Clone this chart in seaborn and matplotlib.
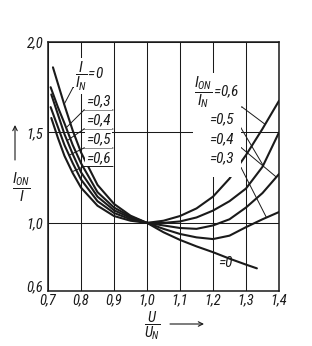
import numpy as np
import pandas as pd
import matplotlib
matplotlib.use("Agg")
import matplotlib.pyplot as plt
import seaborn as sns
from matplotlib import font_manager as fm
from matplotlib.patches import Rectangle

# ---------------- data ----------------
u_p00 = [0.715, 0.73, 0.75, 0.775, 0.8, 0.85, 0.9, 0.95, 1.0, 1.05, 1.1, 1.15, 1.2, 1.25, 1.3, 1.333]
r_p00 = [1.86, 1.77, 1.65, 1.51, 1.39, 1.21, 1.105, 1.04, 1.0, 0.945, 0.90, 0.862, 0.828, 0.79, 0.755, 0.733]

u_p03 = [0.708, 0.73, 0.75, 0.775, 0.8, 0.85, 0.9, 0.95, 1.0, 1.05, 1.1, 1.15, 1.2, 1.25, 1.3, 1.35, 1.4]
r_p03 = [1.75, 1.64, 1.55, 1.43, 1.33, 1.17, 1.085, 1.035, 1.0, 0.965, 0.935, 0.915, 0.905, 0.925, 0.975, 1.02, 1.06]

u_p04 = [0.71, 0.73, 0.75, 0.775, 0.8, 0.85, 0.9, 0.95, 1.0, 1.05, 1.1, 1.15, 1.2, 1.25, 1.3, 1.35, 1.4]
r_p04 = [1.71, 1.60, 1.49, 1.38, 1.28, 1.145, 1.07, 1.028, 1.0, 0.985, 0.97, 0.965, 0.985, 1.02, 1.085, 1.165, 1.27]

u_p05 = [0.708, 0.73, 0.75, 0.775, 0.8, 0.85, 0.9, 0.95, 1.0, 1.05, 1.1, 1.15, 1.2, 1.25, 1.3, 1.35, 1.4]
r_p05 = [1.64, 1.53, 1.43, 1.33, 1.24, 1.12, 1.055, 1.02, 1.0, 1.0, 1.008, 1.03, 1.068, 1.12, 1.19, 1.31, 1.5]

u_p06 = [0.71, 0.73, 0.75, 0.775, 0.8, 0.85, 0.9, 0.95, 1.0, 1.05, 1.1, 1.15, 1.2, 1.25, 1.3, 1.35, 1.4]
r_p06 = [1.58, 1.47, 1.37, 1.275, 1.195, 1.095, 1.038, 1.012, 1.0, 1.012, 1.038, 1.08, 1.145, 1.245, 1.375, 1.52, 1.675]

params = ["0", "0.3", "0.4", "0.5", "0.6"]
x_ticks = [0.7, 0.8, 0.9, 1.0, 1.1, 1.2, 1.3, 1.4]
x_tick_labels = ["0,7", "0,8", "0,9", "1,0", "1,1", "1,2", "1,3", "1,4"]
y_ticks = [0.6, 1.0, 1.5, 2.0]
y_tick_labels = ["0,6", "1,0", "1,5", "2,0"]
left_labels = ["=0,3", "=0,4", "=0,5", "=0,6"]
right_labels = ["=0,5", "=0,4", "=0,3"]

curves = {"0": (u_p00, r_p00), "0.3": (u_p03, r_p03), "0.4": (u_p04, r_p04),
          "0.5": (u_p05, r_p05), "0.6": (u_p06, r_p06)}
df = pd.concat([pd.DataFrame({"u": u, "r": r, "p": p}) for p, (u, r) in curves.items()],
               ignore_index=True)

# ---------------- style ----------------
sns.set_style("white")
avail = {f.name for f in fm.fontManager.ttflist}
FAM = next((f for f in ["Liberation Sans Narrow", "Roboto Condensed", "DejaVu Sans"] if f in avail),
           "DejaVu Sans")
plt.rcParams["font.family"] = [FAM, "DejaVu Sans"]
plt.rcParams["font.style"] = "italic"
plt.rcParams["mathtext.fontset"] = "custom"
plt.rcParams["mathtext.rm"] = f"{FAM}:italic"
plt.rcParams["mathtext.it"] = f"{FAM}:italic"
plt.rcParams["mathtext.bf"] = f"{FAM}:italic"
C = "#1a1a1a"
W, H = 312, 346
TS = 10.5   # tick label size
LS = 11.0   # annotation label size

fig = plt.figure(figsize=(W / 100, H / 100), dpi=100)
ax = fig.add_axes([48 / W, 1 - 291 / H, (279 - 48) / W, (291 - 42) / H])

K = 170.0 / 180.6


def fwd(y):
    y = np.asarray(y, dtype=float)
    return np.where(y < 1, 1 - (1 - y) * K, y)


def inv(t):
    t = np.asarray(t, dtype=float)
    return np.where(t < 1, 1 - (1 - t) / K, t)


ax.set_yscale("function", functions=(fwd, inv))

sns.lineplot(data=df, x="u", y="r", hue="p", units="p", estimator=None, sort=False,
             palette={p: C for p in params}, legend=False, lw=1.5, ax=ax, zorder=3)

ax.set_xlim(0.7, 1.4)
ax.set_ylim(0.6, 2.0)
ax.set_xticks(x_ticks)
ax.set_xticklabels(x_tick_labels)
ax.set_yticks(y_ticks)
ax.set_yticklabels(y_tick_labels)
ax.minorticks_off()
ax.tick_params(length=0, labelsize=TS, colors=C)
ax.tick_params(axis="y", pad=3.5)
ax.tick_params(axis="x", pad=2.0)
# lowest y label sits above the axis line, as in the reference
ax.get_yticklabels()[0].set_verticalalignment("baseline")
ax.set_xlabel("")
ax.set_ylabel("")
ax.set_axisbelow(True)
ax.grid(True, color=C, lw=0.75)
for s in ax.spines.values():
    s.set_visible(True)
    s.set_color(C)
    s.set_linewidth(1.1)


def fp(px, py):
    return (px, H - py)


# blank area behind the right-hand labels (grid is interrupted there in the reference)
fig.add_artist(Rectangle((193 / W, 1 - 177 / H), (241 - 193) / W, (177 - 73) / H,
                         transform=fig.transFigure, fc="white", ec="none", zorder=1.5))


def seg(p0, p1, lw=0.7):
    ax.annotate("", xy=fp(*p1), xycoords="figure pixels", xytext=fp(*p0),
                textcoords="figure pixels",
                arrowprops=dict(arrowstyle="-", lw=lw, color=C, shrinkA=0, shrinkB=0),
                annotation_clip=False)


def leader(p0, key, xt, lw=0.7):
    u, r = curves[key]
    yt = float(np.interp(xt, u, r))
    ax.annotate("", xy=(xt, yt), xycoords="data", xytext=fp(*p0), textcoords="figure pixels",
                arrowprops=dict(arrowstyle="-", lw=lw, color=C, shrinkA=0, shrinkB=0),
                annotation_clip=False)


def label(px, py, s, size=LS, box=True):
    kw = dict(bbox=dict(boxstyle="square,pad=0.08", fc="white", ec="none")) if box else {}
    fig.text(px / W, 1 - py / H, s, ha="center", va="center", fontsize=size, color=C,
             zorder=2.6, **kw)


# left labels
label(90, 76, r"$\dfrac{I}{I_N}\!=\!0$")
seg((73, 87.5), (103, 87.5))
leader((73, 87.5), "0", 0.749)
left_rows = [(101.5, 110, "0.3", 0.755), (120.5, 129, "0.4", 0.758),
             (139.5, 148, "0.5", 0.764), (158, 166.5, "0.6", 0.773)]
for txt, (ty, uy, key, xt) in zip(left_labels, left_rows):
    label(98.5, ty, txt)
    seg((84, uy), (113, uy))
    leader((84, uy), key, xt)

# right labels
label(217, 92, r"$\dfrac{I_{ON}}{I_N}\!=\!0{,}6$")
seg((196, 107), (242, 107))
leader((242, 107), "0.6", 1.358)
right_rows = [(119.5, 128, "0.5", 1.352), (139, 147.5, "0.4", 1.392), (158.5, 167.5, "0.3", 1.362)]
for txt, (ty, uy, key, xt) in zip(right_labels, right_rows):
    label(221, ty, txt)
    seg((205, uy), (241, uy))
    leader((241, uy), key, xt)

label(225, 263, "=0", box=False)

# axis titles with arrows
label(21, 187, r"$\dfrac{I_{ON}}{I}$")
ax.annotate("", xy=fp(15, 125), xycoords="figure pixels", xytext=fp(15, 160),
            textcoords="figure pixels",
            arrowprops=dict(arrowstyle="->", lw=0.8, color=C, shrinkA=0, shrinkB=0,
                            mutation_scale=8), annotation_clip=False)
label(152, 326, r"$\dfrac{U}{U_N}$", size=10.5)
ax.annotate("", xy=fp(204, 324), xycoords="figure pixels", xytext=fp(170, 324),
            textcoords="figure pixels",
            arrowprops=dict(arrowstyle="->", lw=0.8, color=C, shrinkA=0, shrinkB=0,
                            mutation_scale=8), annotation_clip=False)

fig.savefig("out.png", dpi=100, facecolor="white")
